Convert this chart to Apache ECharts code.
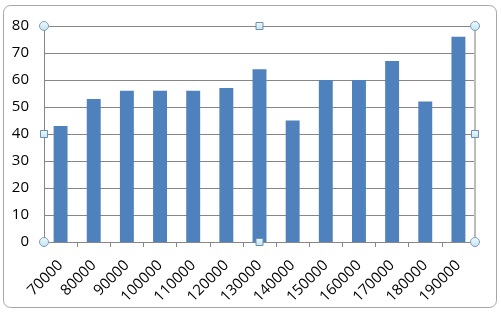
<!DOCTYPE html>
<html>
<head>
<meta charset="utf-8">
<script src="https://cdn.jsdelivr.net/npm/echarts@6/dist/echarts.min.js"></script>
<style>
html,body{margin:0;padding:0;background:#fff;}
#c{width:501px;height:313px;}
</style>
</head>
<body>
<div id="c"></div>
<script>
var categories = ['70000','80000','90000','100000','110000','120000','130000','140000','150000','160000','170000','180000','190000'];
var values = [43, 53, 56, 56, 56, 57, 64, 45, 60, 60, 67, 52, 76];
var yTicks = [0, 10, 20, 30, 40, 50, 60, 70, 80];

var G = {left: 44, right: 26, top: 26, bottom: 71};
var W = 501, H = 313;
var x0 = G.left, x1 = W - G.right, y0 = G.top, y1 = H - G.bottom;
var xm = (x0 + x1) / 2, ym = (y0 + y1) / 2;

function circ(cx, cy) {
  return {type: 'circle', shape: {cx: cx, cy: cy, r: 4.5}, z: 100,
    style: {fill: {type: 'linear', x: 0, y: 0, x2: 0, y2: 1, colorStops: [{offset: 0, color: '#f2fbff'}, {offset: 1, color: '#bfe3ef'}]}, stroke: '#7f9db9', lineWidth: 1}};
}
function sq(cx, cy) {
  return {type: 'rect', shape: {x: cx - 3.5, y: cy - 3.5, width: 7, height: 7}, z: 100,
    style: {fill: {type: 'linear', x: 0, y: 0, x2: 0, y2: 1, colorStops: [{offset: 0, color: '#f2fbff'}, {offset: 1, color: '#bfe3ef'}]}, stroke: '#6f8fb0', lineWidth: 1}};
}

var chart = echarts.init(document.getElementById('c'), null, {renderer: 'canvas'});
chart.setOption({
  animation: false,
  backgroundColor: '#fff',
  grid: {left: G.left, right: G.right, top: G.top, bottom: G.bottom, containLabel: false},
  xAxis: {
    type: 'category',
    data: categories,
    boundaryGap: true,
    axisLine: {show: true, lineStyle: {color: '#868686', width: 1}},
    axisTick: {show: true, length: 5, lineStyle: {color: '#868686'}},
    axisLabel: {rotate: 45, margin: 21, color: '#000', fontSize: 15, fontFamily: 'Open Sans', interval: 0}
  },
  yAxis: {
    type: 'value',
    min: yTicks[0], max: yTicks[yTicks.length - 1], interval: 10,
    axisLine: {show: true, lineStyle: {color: '#868686', width: 1}},
    axisTick: {show: false},
    splitLine: {show: true, lineStyle: {color: '#868686', width: 1}},
    axisLabel: {margin: 15, color: '#000', fontSize: 15, fontFamily: 'Open Sans'}
  },
  series: [{
    type: 'bar',
    data: values,
    barWidth: '42%',
    itemStyle: {color: '#4f81bd'}
  }],
  graphic: [
    {type: 'rect', shape: {x: 3.5, y: 5.5, width: 493, height: 302, r: 7}, z: -10, silent: true,
      style: {fill: 'none', stroke: '#a6a6a6', lineWidth: 1}},
    {type: 'line', shape: {x1: x1, y1: y0, x2: x1, y2: y1}, z: 50,
      style: {stroke: '#bdbdbd', lineWidth: 2}},
    circ(x0, y0), circ(x1, y0), circ(x0, y1), circ(x1, y1),
    sq(xm, y0), sq(xm, y1), sq(x0, ym), sq(x1, ym)
  ]
});
</script>
</body>
</html>
